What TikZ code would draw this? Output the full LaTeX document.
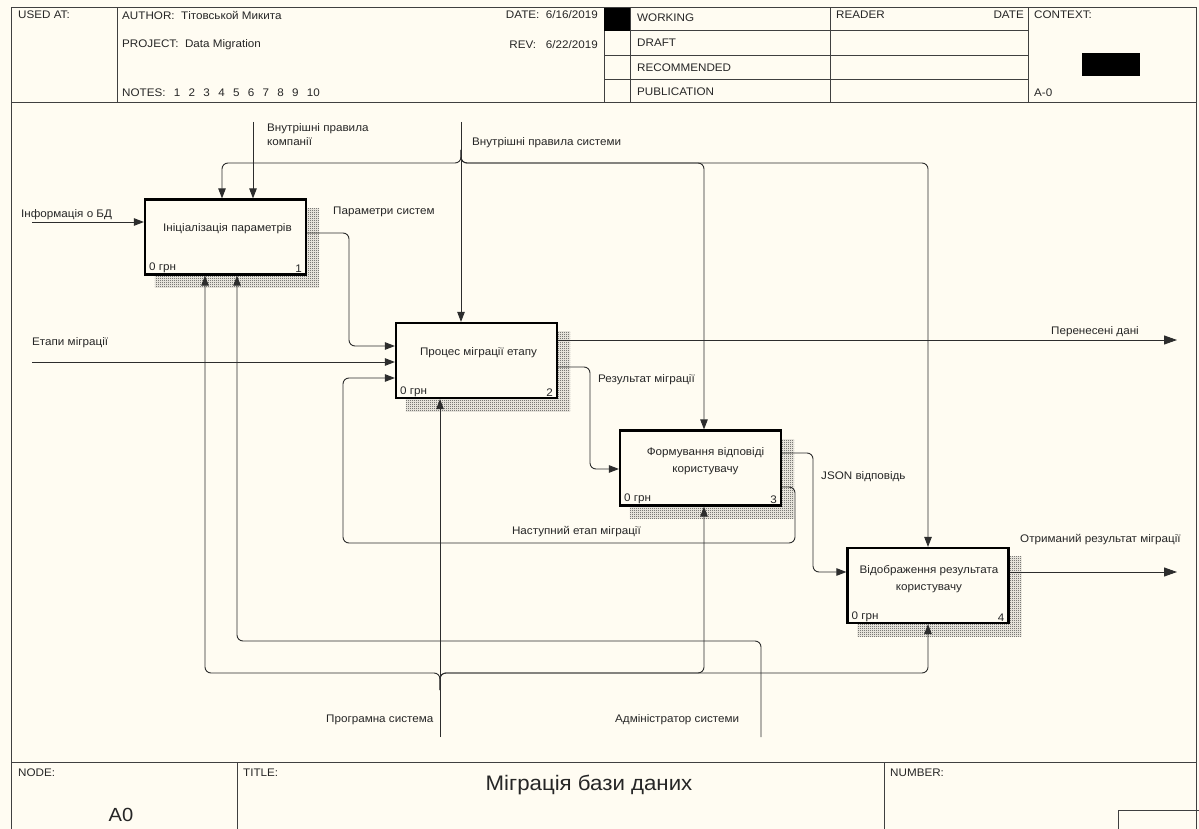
\documentclass[tikz,border=0pt]{standalone}
\usepackage{fontspec}
\setmainfont{Liberation Sans}[FakeStretch=1.06]
\usetikzlibrary{arrows.meta,patterns,calc}
\definecolor{bgc}{RGB}{255,252,242}
\definecolor{ln}{RGB}{45,45,45}
\pgfdeclarelayer{bg}\pgfsetlayers{bg,main}
\pgfdeclarepatternformonly{finecheck}{\pgfpointorigin}{\pgfqpoint{2pt}{2pt}}{\pgfqpoint{2pt}{2pt}}{%
  \pgfpathrectangle{\pgfpointorigin}{\pgfqpoint{1pt}{1pt}}%
  \pgfpathrectangle{\pgfqpoint{1pt}{1pt}}{\pgfqpoint{1pt}{1pt}}%
  \pgfusepath{fill}}
\newcommand{\nsp}{\hspace{8.3pt}}
\begin{document}
\begin{tikzpicture}[x=1pt,y=-1pt,
  lbl/.style={font=\fontsize{11}{13}\selectfont, inner sep=0pt, text=black!85},
  hdr/.style={font=\fontsize{11}{13}\selectfont, inner sep=0pt, anchor=west, text=black!85},
  box/.style={draw=black, line width=2.2pt, fill=bgc, minimum width=161pt, minimum height=75pt, inner sep=0pt},
  btext/.style={font=\fontsize{11}{17}\selectfont, align=center, inner sep=0pt, text=black!85},
  corner/.style={font=\fontsize{11}{13}\selectfont, inner xsep=5pt, inner ysep=2.5pt, text=black!85},
  conn/.style={draw=ln, line width=0.9pt, rounded corners=6pt},
  arr/.style={conn, -{Triangle[length=10pt,width=7.5pt]}},
  oarr/.style={conn, -{Triangle[length=13pt,width=9pt]}},
  frm/.style={draw=black!75, line width=1pt},
]
\useasboundingbox (0,0) rectangle (1199,829);
\begin{pgfonlayer}{bg}
\fill[bgc] (0,0) rectangle (1199,829);
\end{pgfonlayer}

% ---------- frame & header ----------
\draw[frm] (11,829) -- (11,8) -- (1196,8) -- (1196,829);
\draw[frm] (11,103) -- (1196,103);
\draw[frm] (117,8) -- (117,103);
\draw[frm] (604,8) -- (604,103);
\draw[frm] (630,8) -- (630,103);
\draw[frm] (830,8) -- (830,103);
\draw[frm] (1028,8) -- (1028,103);
\draw[frm] (604,31) -- (1028,31);
\draw[frm] (604,56) -- (1028,56);
\draw[frm] (604,80) -- (1028,80);
\fill[black] (604,8) rectangle (630,31);
\fill[black] (1082,53) rectangle (1140,76);

\node[hdr] (usedat) at (18,15) {USED AT:};
\node[hdr] (author) at (122,15) {AUTHOR:\ \ Тітовськой Микита};
\node[hdr] (project) at (122,45) {PROJECT:\ \ Data Migration};
\node[hdr] (notes) at (122,93) {NOTES:\nsp 1\nsp 2\nsp 3\nsp 4\nsp 5\nsp 6\nsp 7\nsp 8\nsp 9\nsp 10};
\node[hdr,anchor=east] (date) at (598,15) {DATE:\ \ 6/16/2019};
\node[hdr,anchor=east] (rev) at (598,45) {REV:\ \ \ 6/22/2019};
\node[hdr] (working) at (637,18) {WORKING};
\node[hdr] (draft) at (637,43) {DRAFT};
\node[hdr] (recom) at (637,68) {RECOMMENDED};
\node[hdr] (public) at (637,92) {PUBLICATION};
\node[hdr] (reader) at (836,15) {READER};
\node[hdr,anchor=east] (rdate) at (1024,15) {DATE};
\node[hdr] (context) at (1034,15) {CONTEXT:};
\node[hdr] (am0) at (1034,93) {A-0};

% ---------- footer ----------
\draw[frm] (11,762) -- (1196,762);
\draw[frm] (237,762) -- (237,829);
\draw[frm] (884,762) -- (884,829);
\draw[frm] (1118,829) -- (1118,810) -- (1199,810);
\node[hdr] (nodelbl) at (18,773) {NODE:};
\node[font=\fontsize{19}{22}\selectfont, inner sep=0pt, text=black!85] (nodeval) at (121,815) {A0};
\node[hdr] (titlelbl) at (243,773) {TITLE:};
\node[font=\fontsize{21}{25}\selectfont, inner sep=0pt, text=black!85] (title) at (589,785) {Міграція бази даних};
\node[hdr] (numlbl) at (890,773) {NUMBER:};

% ---------- boxes ----------
\node[box] (b1) at (225.5,237) {};
\node[box] (b2) at (476.5,360.5) {};
\node[box] (b3) at (700.5,468) {};
\node[box] (b4) at (928,585.5) {};
\node[btext] (t1) at ($(b1.center)+(2,-8)$) {Ініціалізація параметрів};
\node[btext] (t2) at ($(b2.center)+(2,-8)$) {Процес міграції етапу};
\node[btext] (t3) at ($(b3.center)+(5,-7)$) {Формування відповіді\\користувачу};
\node[btext] (t4) at ($(b4.center)+(1,-6)$) {Відображення результата\\користувачу};
\foreach \b/\n in {b1/1,b2/2,b3/3,b4/4}{
  \node[corner,anchor=south west] (\b c) at (\b.south west) {0 грн};
  \node[corner,anchor=south east] (\b n) at (\b.south east) {\n};
}
\begin{pgfonlayer}{bg}
\foreach \b in {b1,b2,b3,b4}
  \fill[pattern=finecheck, pattern color=black!80] ($(\b.south west)+(11,12)$) rectangle ($(\b.north east)+(12,10)$);
\end{pgfonlayer}

% ---------- free ends ----------
\coordinate (inBD) at (32,222);
\coordinate (inEt) at (32,362);
\coordinate (ctlC) at (253,122);
\coordinate (ctlS) at (461,122);
\coordinate (mechP) at (440,737);
\coordinate (mechA) at (761,737);
\coordinate (outP) at (1177,340);
\coordinate (outR) at (1177,572);

% ---------- connectors ----------
\draw[arr] (inBD) -- (b1.west |- inBD);
\draw[arr] (inEt) -- (b2.west |- inEt);
\draw[arr] (ctlC) -- (b1.north -| ctlC);
\draw[arr] (ctlS) -- (b2.north -| ctlS);
\draw[arr] (461,150) -- (461,163) -- (222,163) -- (b1.north -| 222,0);
\draw[arr] (461,150) -- (461,163) -- (704,163) -- (b3.north -| 704,0);
\draw[arr] (461,150) -- (461,163) -- (928,163) -- (b4.north -| 928,0);
\draw[arr] (mechP) -- (b2.south -| mechP);
\draw[arr] (440,690) -- (440,673) -- (205,673) -- (b1.south -| 205,0);
\draw[arr] (440,690) -- (440,673) -- (704,673) -- (b3.south -| 704,0);
\draw[arr] (440,690) -- (440,673) -- (928,673) -- (b4.south -| 928,0);
\draw[arr] (mechA) -- (761,641) -- (237,641) -- (b1.south -| 237,0);
\draw[arr] (b1.east |- 0,233) -- (349,233) -- (349,346) -- (b2.west |- 0,346);
\draw[oarr] (b2.east |- outP) -- (outP);
\draw[arr] (b2.east |- 0,367) -- (590,367) -- (590,469) -- (b3.west |- 0,469);
\draw[arr] (b3.east |- 0,487) -- (795,487) -- (795,543) -- (343,543) -- (343,378) -- (b2.west |- 0,378);
\draw[arr] (b3.east |- 0,453) -- (813,453) -- (813,572) -- (b4.west |- 0,572);
\draw[oarr] (b4.east |- outR) -- (outR);

% ---------- labels ----------
\node[lbl,anchor=west] (lBD) at (21,215) {Інформація о БД};
\node[lbl,anchor=north west,align=left,font=\fontsize{11}{14}\selectfont] (lC) at (267,123) {Внутрішні правила\\компанії};
\node[lbl,anchor=west] (lS) at (472,143) {Внутрішні правила системи};
\node[lbl,anchor=west] (lPar) at (333,212) {Параметри систем};
\node[lbl,anchor=west] (lEt) at (32,343) {Етапи міграції};
\node[lbl,anchor=east] (lPer) at (1139,332) {Перенесені дані};
\node[lbl,anchor=west] (lRes) at (598,380) {Результат міграції};
\node[lbl,anchor=west] (lJson) at (821,477) {JSON відповідь};
\node[lbl,anchor=east] (lNext) at (641,532) {Наступний етап міграції};
\node[lbl,anchor=west] (lOtr) at (1020,540) {Отриманий результат міграції};
\node[lbl,anchor=west] (lProg) at (326,720) {Програмна система};
\node[lbl,anchor=west] (lAdm) at (615,720) {Адміністратор системи};
\end{tikzpicture}
\end{document}
